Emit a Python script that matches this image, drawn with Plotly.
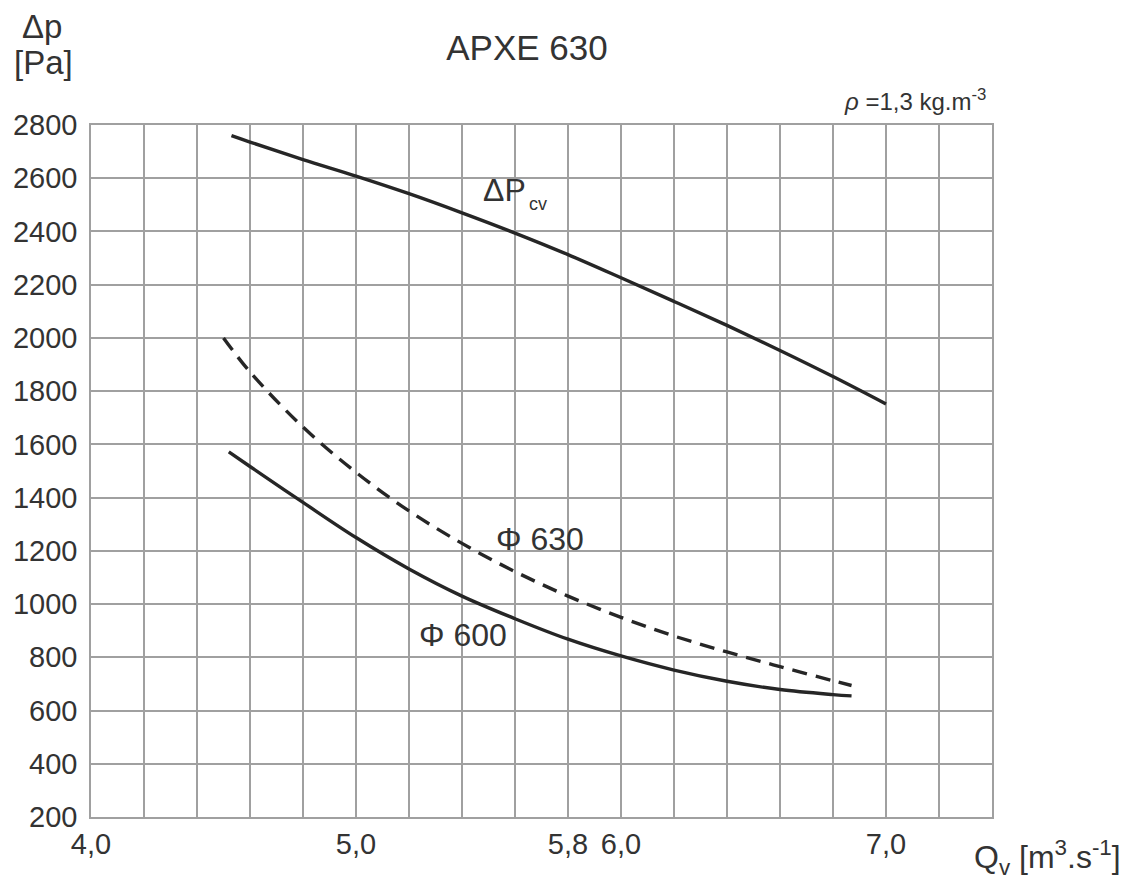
import plotly.graph_objects as go

# ---- data ----
x_grid = [4.0, 4.2, 4.4, 4.6, 4.8, 5.0, 5.2, 5.4, 5.6, 5.8, 6.0, 6.2, 6.4, 6.6, 6.8, 7.0, 7.2, 7.4]
x_labels = ["4,0", "", "", "", "", "5,0", "", "", "", "5,8", "6,0", "", "", "", "", "7,0", "", ""]
y_grid = [200, 400, 600, 800, 1000, 1200, 1400, 1600, 1800, 2000, 2200, 2400, 2600, 2800]
y_labels = ["200", "400", "600", "800", "1000", "1200", "1400", "1600", "1800", "2000", "2200", "2400", "2600", "2800"]

q_cv = [4.53, 4.6, 4.8, 5.0, 5.2, 5.4, 5.6, 5.8, 6.0, 6.2, 6.4, 6.6, 6.8, 7.0]
dp_cv = [2760, 2736, 2670, 2608, 2542, 2470, 2394, 2313, 2226, 2137, 2047, 1953, 1855, 1752]

q_630 = [4.5, 4.6, 4.8, 5.0, 5.2, 5.4, 5.6, 5.8, 6.0, 6.2, 6.4, 6.6, 6.8, 6.87]
dp_630 = [2000, 1872, 1665, 1495, 1350, 1228, 1122, 1030, 950, 880, 820, 765, 712, 694]

q_600 = [4.52, 4.6, 4.8, 5.0, 5.2, 5.4, 5.6, 5.8, 6.0, 6.2, 6.4, 6.6, 6.8, 6.87]
dp_600 = [1572, 1517, 1382, 1250, 1132, 1030, 945, 868, 805, 752, 710, 679, 660, 655]

FONT = "Liberation Sans, Arial, sans-serif"
TXT = "#333333"
LINE = "#262626"
GRID = "#a0a0a0"

fig = go.Figure()
fig.add_trace(go.Scatter(x=q_cv, y=dp_cv, mode="lines", line=dict(color=LINE, width=3.4, shape="spline"),
                         name="ΔPcv", hoverinfo="skip"))
fig.add_trace(go.Scatter(x=q_630, y=dp_630, mode="lines",
                         line=dict(color=LINE, width=3.4, shape="spline", dash="15px,9px"),
                         name="Φ 630", hoverinfo="skip"))
fig.add_trace(go.Scatter(x=q_600, y=dp_600, mode="lines", line=dict(color=LINE, width=3.4, shape="spline"),
                         name="Φ 600", hoverinfo="skip"))

fig.update_layout(
    width=1133, height=880,
    margin=dict(l=91, r=141, t=125, b=63),
    paper_bgcolor="white", plot_bgcolor="white",
    showlegend=False,
    font=dict(family=FONT, color=TXT, size=29),
    title=dict(text="APXE 630", x=527 / 1133, xanchor="center", y=1 - 48 / 880, yanchor="middle",
               font=dict(family=FONT, size=35, color=TXT)),
)
fig.update_xaxes(range=[4.0, 7.4], tickvals=x_grid, ticktext=x_labels, showgrid=True, gridcolor=GRID,
                 gridwidth=1.6, showline=True, linecolor=GRID, linewidth=1.6, mirror=True, zeroline=False,
                 ticks="", ticklabelstandoff=0, tickfont=dict(size=29, color=TXT, family=FONT))
fig.update_yaxes(range=[200, 2800], tickvals=y_grid, ticktext=y_labels, showgrid=True, gridcolor=GRID,
                 gridwidth=1.6, showline=True, linecolor=GRID, linewidth=1.6, mirror=True, zeroline=False,
                 ticks="", ticklabelstandoff=6, tickfont=dict(size=29, color=TXT, family=FONT))

ann = []
ann.append(dict(text="Δp", xref="paper", yref="paper", x=(42 - 91) / 901, y=(817 - 27) / 692,
                xanchor="center", yanchor="middle", showarrow=False,
                font=dict(size=33, color=TXT, family=FONT)))
ann.append(dict(text="[Pa]", xref="paper", yref="paper", x=(43 - 91) / 901, y=(817 - 63) / 692,
                xanchor="center", yanchor="middle", showarrow=False,
                font=dict(size=33, color=TXT, family=FONT)))
ann.append(dict(text="<i>ρ</i> =1,3 kg.m<sup>-3</sup>", xref="paper", yref="paper", x=(988 - 91) / 901,
                y=(817 - 100) / 692, xanchor="right", yanchor="middle", showarrow=False,
                font=dict(size=24, color=TXT, family=FONT)))
ann.append(dict(text="Q<sub>v</sub> [m<sup>3</sup>.s<sup>-1</sup>]", xref="paper", yref="paper",
                x=(1123 - 91) / 901, y=(817 - 857) / 692, xanchor="right", yanchor="middle", showarrow=False,
                font=dict(size=32, color=TXT, family=FONT)))
ann.append(dict(text="ΔP", x=5.47, y=2555, xanchor="left", yanchor="middle", showarrow=False,
                font=dict(size=32, color=TXT, family=FONT)))
ann.append(dict(text="cv", x=5.645, y=2502, xanchor="left", yanchor="middle", showarrow=False,
                font=dict(size=18, color=TXT, family=FONT)))
ann.append(dict(text="Φ 630", x=5.52, y=1243, xanchor="left", yanchor="middle", showarrow=False,
                font=dict(size=32, color=TXT, family=FONT)))
ann.append(dict(text="Φ 600", x=5.23, y=883, xanchor="left", yanchor="middle", showarrow=False,
                font=dict(size=32, color=TXT, family=FONT)))
fig.update_layout(annotations=ann)

fig.write_html("out.html")
